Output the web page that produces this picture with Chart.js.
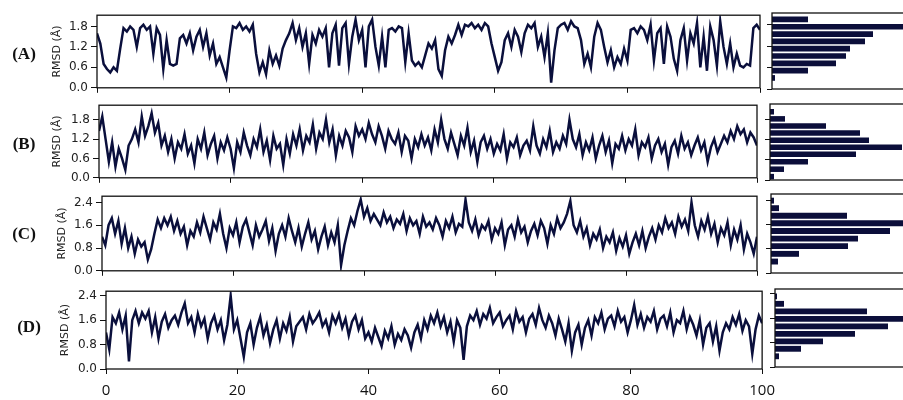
<!DOCTYPE html>
<html>
<head>
<meta charset="utf-8">
<script src="https://cdn.jsdelivr.net/npm/chart.js@4.4.1/dist/chart.umd.min.js"></script>
<style>
  body { margin: 0; background: #fff; }
  #page { position: relative; width: 903px; height: 400px; overflow: hidden; background: #fff; }
  canvas { position: absolute; }
  .tag { position: absolute; font: bold 17px "Liberation Serif", serif; color: #111; transform: translate(-50%, -50%); white-space: nowrap; }
</style>
</head>
<body>
<div id="page">
  <canvas id="lineA"></canvas><canvas id="histA"></canvas>
  <canvas id="lineB"></canvas><canvas id="histB"></canvas>
  <canvas id="lineC"></canvas><canvas id="histC"></canvas>
  <canvas id="lineD"></canvas><canvas id="histD"></canvas>
  <div class="tag" id="tagA">(A)</div>
  <div class="tag" id="tagB">(B)</div>
  <div class="tag" id="tagC">(C)</div>
  <div class="tag" id="tagD">(D)</div>
</div>
<script>
//==============DATA=============

// one RMSD sample every 0.5 ns, 0..100 ns
const sampleStep = 0.5;

const rmsdA = [
  1.6, 1.3, 0.7, 0.55, 0.45, 0.6, 0.5, 1.15, 1.75, 1.65,
  1.8, 1.7, 1.2, 1.75, 1.85, 1.7, 1.8, 1.0, 1.75, 1.55,
  0.55, 1.4, 0.7, 0.65, 0.7, 1.45, 1.55, 1.3, 1.6, 1.1,
  1.5, 1.7, 1.2, 1.6, 0.95, 1.3, 0.7, 0.9, 0.6, 0.3,
  1.1, 1.8, 1.75, 1.9, 1.7, 1.8, 1.65, 1.85, 1.0, 0.45,
  0.75, 0.4, 1.1, 0.7, 0.95, 0.65, 1.15, 1.4, 1.6, 1.9,
  1.4, 1.75, 1.2, 1.6, 0.7, 1.55, 1.3, 1.7, 1.5, 1.75,
  0.6, 1.6, 1.85, 0.65, 1.75, 1.9, 0.7, 1.5, 2.0, 1.4,
  1.7, 0.6, 1.8, 2.0, 1.2, 0.65, 1.5, 0.6, 1.7, 1.75,
  1.65, 1.8, 1.75, 0.75, 1.6, 0.8, 0.65, 0.75, 0.6, 0.95,
  1.3, 1.15, 1.4, 0.55, 0.35, 1.1, 1.5, 1.3, 1.55, 1.85,
  1.55, 1.85, 1.8, 1.9, 1.75, 1.85, 1.7, 1.9, 1.8, 1.3,
  0.9, 0.5, 0.75, 1.4, 1.6, 1.2, 1.7, 1.5, 1.05, 1.6,
  1.85, 1.75, 1.9, 1.2, 1.5, 0.9, 1.6, 0.15, 1.1, 1.75,
  1.85, 1.9, 1.7, 1.95, 1.8, 1.75, 1.4, 0.7, 1.0, 0.6,
  1.5, 1.9, 1.7, 1.2, 0.75, 1.1, 0.6, 0.9, 0.7, 1.15,
  0.8, 1.7, 1.75, 1.6, 1.8, 1.7, 1.4, 1.85, 0.8, 1.6,
  1.75, 0.7, 1.8, 1.5, 0.85, 0.5, 1.4, 1.75, 0.8, 1.6,
  1.3, 1.9, 0.6, 1.5, 0.5, 1.8, 1.4, 0.65, 1.95, 1.2,
  0.7, 1.3, 0.6, 1.0, 0.65, 0.6, 0.7, 0.65, 1.75, 1.85,
  1.7
];

const rmsdB = [
  1.45, 1.9, 1.2, 0.5, 1.1, 0.35, 0.9, 0.6, 0.25, 1.0,
  1.2, 1.5, 1.1, 1.9, 1.3, 1.6, 2.0, 1.4, 1.7, 1.0,
  1.3, 0.8, 1.2, 0.6, 1.1, 0.9, 1.35, 0.75, 1.0, 0.45,
  1.2, 0.9, 1.4, 0.7, 1.05, 1.3, 0.6, 1.1, 0.85, 1.25,
  0.9, 0.3, 1.1, 0.8, 1.4, 1.0, 0.7, 1.2, 0.95, 1.5,
  0.8, 1.15, 0.55, 1.3, 0.9, 1.05, 0.4, 1.2, 0.75, 1.35,
  1.0, 1.5, 0.85, 1.3, 1.1, 1.65, 0.9, 1.4, 1.2, 1.8,
  1.1, 1.5, 0.7, 1.3, 1.0, 1.45, 1.25, 0.8, 1.6, 1.3,
  1.5, 1.2, 1.7, 1.35, 1.1, 1.6, 1.3, 0.9, 1.45, 1.2,
  1.05, 1.4, 0.8, 1.3, 1.15, 0.6, 1.2, 0.95, 1.35, 1.0,
  1.25, 0.85, 1.5, 1.1, 1.8, 1.2, 0.9, 1.4, 1.05, 0.7,
  1.3, 1.0, 1.55, 0.8, 1.15, 0.5, 1.1, 1.3, 0.9, 1.2,
  0.75, 1.05, 0.85, 1.35, 0.6, 1.1, 0.95, 1.25, 0.7, 1.0,
  1.15, 0.85, 1.6, 1.0, 0.75, 1.2, 0.95, 1.45, 0.8, 1.1,
  0.9, 1.3, 1.05, 1.8, 1.2, 0.95, 1.35, 0.7, 1.1, 0.85,
  1.25, 0.6, 1.0, 1.3, 0.8, 1.15, 0.45, 1.05, 0.9, 1.3,
  0.85, 1.2, 1.0, 1.5, 0.7, 1.1, 0.95, 1.25, 0.6, 1.0,
  1.2, 0.8, 1.05, 0.4, 0.95, 1.15, 0.75, 1.3, 0.9, 1.1,
  0.7, 1.0, 1.25, 0.85, 1.1, 0.5, 0.95, 1.2, 0.8, 1.05,
  1.3, 1.1, 1.45, 1.2, 1.6, 1.35, 1.5, 1.1, 1.4, 1.25,
  1.0
];

const rmsdC = [
  1.2, 0.9, 1.6, 1.85, 1.3, 1.75, 0.95, 1.5, 0.8, 1.2,
  0.6, 1.1, 0.85, 1.0, 0.4, 0.75, 1.3, 1.8, 1.5, 1.85,
  1.6, 1.9, 1.4, 1.75, 1.3, 1.55, 0.9, 1.4, 1.2, 1.7,
  1.35, 1.9, 1.5, 1.1, 1.7, 1.45, 2.0, 1.3, 0.8, 1.5,
  1.25, 1.7, 1.0, 1.55, 1.8, 1.35, 0.9, 1.6, 1.2, 1.45,
  1.75, 1.05, 1.5, 0.7, 1.3, 1.6, 1.2, 1.85, 1.4, 1.0,
  1.5, 0.85, 1.3, 1.7, 1.1, 1.4, 0.75, 1.2, 1.55, 0.9,
  1.35, 1.0, 1.6, 0.2, 0.9, 1.4, 1.85, 1.6, 2.1, 2.5,
  1.9, 2.2, 1.75, 2.0, 1.8, 1.6, 2.05, 1.7, 1.9, 1.5,
  1.8, 1.65, 2.0, 1.4, 1.85, 1.6, 1.75, 1.3, 1.9, 1.55,
  1.7, 1.45, 1.85, 1.6, 1.2, 1.75, 1.5, 1.9, 1.35, 1.65,
  1.55, 2.5, 1.7, 1.4, 1.8, 1.25, 1.6, 1.45, 1.75, 1.1,
  1.5, 1.3, 1.7, 0.9, 1.45, 1.6, 1.2, 1.8, 1.35, 1.55,
  1.0, 1.4, 1.65, 1.25, 1.75, 1.5, 0.95, 1.6, 1.3, 1.85,
  1.5, 1.7, 2.0, 2.45, 1.6, 1.35, 1.75, 1.2, 1.5, 0.9,
  1.3, 1.1, 1.45, 0.8, 1.2, 1.0, 1.35, 0.7, 1.15, 0.85,
  1.25, 0.6, 1.0, 1.3, 0.9, 1.4, 0.8, 1.2, 1.5, 1.1,
  1.6, 1.35, 1.85, 1.5, 1.7, 1.3, 1.9, 1.55, 1.8, 1.4,
  2.4, 1.6, 1.2, 1.75, 1.45, 1.9, 1.3, 1.65, 1.0, 1.5,
  1.25, 1.7, 0.9, 1.45, 1.1, 1.6, 0.75, 1.3, 1.0, 0.6,
  1.2
];

const rmsdD = [
  1.2, 0.65, 1.7, 1.5, 1.85, 1.3, 1.75, 0.25, 1.6, 1.9,
  1.5, 1.85, 1.65, 1.9, 1.2, 1.7, 1.0, 1.55, 1.8, 1.35,
  1.6, 1.75, 1.45, 1.85, 2.15, 1.5, 1.7, 1.2, 1.8, 1.4,
  1.65, 1.0, 1.5, 1.75, 1.3, 1.6, 0.95, 1.45, 2.4, 1.3,
  1.6, 1.0, 0.4, 1.2, 1.5, 0.8, 1.35, 1.7, 1.1, 1.45,
  0.85, 1.3, 1.6, 1.0, 1.5, 1.25, 1.7, 0.9, 1.4, 1.55,
  1.7, 1.3, 1.8, 1.5, 1.65, 1.85, 1.4, 1.6, 1.2, 1.75,
  1.5, 1.8, 1.35, 1.65, 1.1, 1.55, 1.75, 1.3, 1.6, 1.0,
  1.2, 0.9, 1.35, 1.05, 0.75, 1.25, 1.0, 1.4, 0.8, 1.15,
  0.95, 1.3, 1.1, 0.7, 1.2, 1.45, 1.0, 1.6, 1.3, 1.75,
  1.5, 1.85, 1.4, 1.7, 1.2, 1.55, 0.9, 1.6, 1.35, 0.3,
  1.4, 1.75, 1.6, 1.9, 1.45, 1.8, 1.65, 2.0, 1.5, 1.7,
  1.85, 1.4, 1.6, 1.75, 1.3, 1.9, 1.55, 1.7, 1.2, 1.65,
  1.8, 1.45, 2.0, 1.6, 1.35, 1.75, 1.5, 1.1, 1.65, 1.3,
  0.9, 1.5, 0.6, 1.2, 1.45, 0.8, 1.35, 1.6, 1.1, 1.7,
  1.5, 1.85, 1.3, 1.65, 1.75, 1.4, 1.9, 1.55, 1.7, 1.2,
  1.6, 2.1, 1.45, 1.8, 1.35, 1.7, 1.55, 1.9, 1.3, 1.65,
  1.75, 1.4, 1.85, 1.2, 1.6, 1.5, 1.9, 1.3, 1.7, 1.45,
  1.1, 1.6, 0.8, 1.35, 1.5, 0.9, 1.4, 0.6, 1.2, 1.5,
  1.3, 1.7, 1.45, 1.8, 1.25, 1.6, 1.4, 0.5, 1.3, 1.75,
  1.5
];

// histograms: bin centre (Å) and count
const binsA = [0.31, 0.515, 0.72, 0.925, 1.13, 1.335, 1.54, 1.745, 1.95];
const countsA = [3, 36, 64, 74, 78, 93, 101, 138, 36];

const binsB = [0.1, 0.32, 0.54, 0.76, 0.97, 1.18, 1.39, 1.6, 1.81, 2.02];
const countsB = [4, 14, 38, 86, 132, 99, 90, 56, 15, 4];

const binsC = [0.38, 0.635, 0.89, 1.14, 1.395, 1.65, 1.9, 2.15, 2.4];
const countsC = [7, 28, 77, 87, 119, 132, 76, 8, 3];

const binsD = [0.35, 0.595, 0.84, 1.085, 1.33, 1.575, 1.82, 2.065, 2.31];
const countsD = [4, 26, 48, 80, 113, 138, 92, 9, 2];

const xTickStep = 20;
const yTitle = "RMSD (Å)";

//==============LAYOUT=============

const rows = [
  { id: "A", data: rmsdA, bins: binsA, counts: countsA, yMax: 2.13, step: 0.6,
    plot: [97, 13, 760, 90], hist: [772, 13, 89], titleX: 57, tag: [24, 54] },
  { id: "B", data: rmsdB, bins: binsB, counts: countsB, yMax: 2.25, step: 0.6,
    plot: [99, 103, 757, 180], hist: [770, 104, 180], titleX: 57, tag: [24, 144] },
  { id: "C", data: rmsdC, bins: binsC, counts: countsC, yMax: 2.62, step: 0.8,
    plot: [102, 194, 757, 273], hist: [771, 194, 273], titleX: 62, tag: [24, 234] },
  { id: "D", data: rmsdD, bins: binsD, counts: countsD, yMax: 2.55, step: 0.8,
    plot: [106, 289, 763, 369], hist: [775, 289, 367], titleX: 65, tag: [29, 327] }
];

Chart.defaults.font.family = "'DejaVu Sans', sans-serif";
Chart.defaults.color = "#222";

const ink = "#111";
const lineColor = "#0a0f3c";
const barColor = "#0b0e3a";

// full frame round the plot area
const boxPlugin = {
  id: "box",
  afterDraw(chart) {
    const a = chart.chartArea;
    const ctx = chart.ctx;
    ctx.save();
    ctx.strokeStyle = ink;
    ctx.lineWidth = 1.3;
    ctx.strokeRect(a.left, a.top, a.right - a.left, a.bottom - a.top);
    ctx.restore();
  }
};

//------time series panel----------

function makeLine(row, isLast) {
  const L = row.plot[0], T = row.plot[1], R = row.plot[2], B = row.plot[3];
  const canvasLeft = 30;
  const padRight = isLast ? 20 : 6;
  const xAxisH = isLast ? 31 : 8;
  const cv = document.getElementById("line" + row.id);
  cv.width = R - canvasLeft + padRight;
  cv.height = 8 + (B - T) + xAxisH;
  cv.style.left = canvasLeft + "px";
  cv.style.top = (T - 8) + "px";

  new Chart(cv, {
    type: "line",
    data: {
      datasets: [{
        data: row.data.map(function (v, i) { return { x: i * sampleStep, y: v }; }),
        borderColor: lineColor,
        borderWidth: 2.5,
        pointRadius: 0,
        tension: 0
      }]
    },
    options: {
      responsive: false,
      animation: false,
      layout: { padding: { top: 8, right: padRight, left: 0, bottom: 0 } },
      plugins: { legend: { display: false }, tooltip: { enabled: false } },
      scales: {
        x: {
          type: "linear", min: 0, max: 100,
          ticks: { stepSize: xTickStep, display: isLast, padding: 8, color: "#111",
                   font: { family: "'Open Sans', sans-serif", size: 15 } },
          grid: { drawOnChartArea: false, tickLength: 5, color: ink },
          border: { display: false },
          afterFit: function (s) { s.height = xAxisH; }
        },
        y: {
          min: 0, max: row.yMax,
          ticks: { stepSize: row.step, includeBounds: false, padding: 3, font: { size: 12 },
                   callback: function (v) { return v.toFixed(1); } },
          grid: { drawOnChartArea: false, tickLength: 6, color: ink },
          border: { display: false },
          title: { display: true, text: yTitle, font: { size: 11 }, color: "#222",
                   padding: { top: row.titleX - canvasLeft - 6.6, bottom: 0 } },
          afterFit: function (s) { s.width = L - canvasLeft; }
        }
      }
    },
    plugins: [boxPlugin]
  });
}

//------histogram panel----------

function makeHist(row) {
  const L = row.hist[0], T = row.hist[1], B = row.hist[2];
  const cv = document.getElementById("hist" + row.id);
  cv.width = 150;
  cv.height = 8 + (B - T) + 8;
  cv.style.left = (L - 10) + "px";
  cv.style.top = (T - 8) + "px";

  new Chart(cv, {
    type: "bar",
    data: {
      datasets: [{
        data: row.bins.map(function (b, i) { return { x: row.counts[i], y: b }; }),
        backgroundColor: barColor,
        barPercentage: 0.78,
        categoryPercentage: 1
      }]
    },
    options: {
      indexAxis: "y",
      responsive: false,
      animation: false,
      layout: { padding: { top: 8, right: 0, left: 0, bottom: 8 } },
      plugins: { legend: { display: false }, tooltip: { enabled: false } },
      scales: {
        x: { type: "linear", display: false, min: 0, max: 140 },
        y: {
          type: "linear", min: 0, max: row.yMax, offset: false,
          ticks: { display: false, stepSize: row.step, includeBounds: false },
          grid: { offset: false, drawOnChartArea: false, tickLength: 5, color: ink },
          border: { display: false },
          afterFit: function (s) { s.width = 10; }
        }
      }
    },
    plugins: [boxPlugin]
  });
}

rows.forEach(function (row, i) {
  makeLine(row, i === rows.length - 1);
  makeHist(row);
  const tag = document.getElementById("tag" + row.id);
  tag.style.left = row.tag[0] + "px";
  tag.style.top = row.tag[1] + "px";
});
</script>
</body>
</html>
